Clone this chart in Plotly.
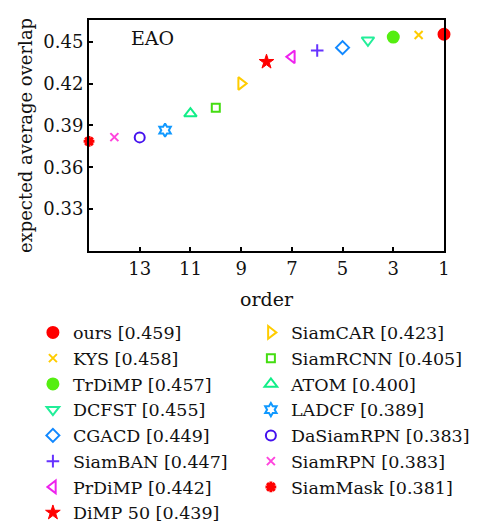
import plotly.graph_objects as go

names = ["ours", "KYS", "TrDiMP", "DCFST", "CGACD", "SiamBAN", "PrDiMP", "DiMP 50",
         "SiamCAR", "SiamRCNN", "ATOM", "LADCF", "DaSiamRPN", "SiamRPN", "SiamMask"]
legend_scores = ["0.459", "0.458", "0.457", "0.455", "0.449", "0.447", "0.442", "0.439",
                 "0.423", "0.405", "0.400", "0.389", "0.383", "0.383", "0.381"]
order = [1, 2, 3, 4, 5, 6, 7, 8, 9, 10, 11, 12, 13, 14, 15]
eao = [0.4553, 0.4548, 0.4533, 0.4510, 0.4457, 0.4436, 0.4391, 0.4355,
       0.4200, 0.4027, 0.3985, 0.3866, 0.3814, 0.3816, 0.3786]
symbols = ["circle", "x-thin-open", "circle", "triangle-down-open", "diamond-open",
           "cross-thin-open", "triangle-left-open", "star", "triangle-right-open",
           "square-open", "triangle-up-open", "hexagram-open", "circle-open",
           "x-thin-open", "asterisk-open"]
colors = ["#ff0000", "#ffcc00", "#55ee11", "#22ee99", "#1188ff", "#6633ff", "#ee22ee",
          "#ff0000", "#ffcc00", "#44dd11", "#11ee88", "#1199ff", "#4411ee", "#ff44dd",
          "#ff0000"]
sizes = [11, 8, 11, 11, 10, 9, 11, 11, 11, 8, 11, 10, 10, 8, 9]
widths = [2, 2, 2, 2, 2, 2, 2, 1, 2, 2, 2, 2, 2, 2, 3]

FONT = "DejaVu Serif"
INK = "#111"
fig = go.Figure()
for i, n in enumerate(names):
    fig.add_trace(go.Scatter(
        x=[order[i]], y=[eao[i]], mode="markers", cliponaxis=False,
        name=f"{n} [{legend_scores[i]}]",
        marker=dict(symbol=symbols[i], size=sizes[i], color=colors[i],
                    line=dict(color=colors[i], width=widths[i])),
        legend="legend" if i < 8 else "legend2",
    ))

fig.add_annotation(text="EAO", x=0.18, y=0.922, xref="paper", yref="paper",
                   xanchor="center", yanchor="middle",
                   showarrow=False, font=dict(family=FONT, size=19, color=INK))

axis_common = dict(showline=True, linecolor="black", linewidth=2, mirror=True,
                   ticks="inside", ticklen=4, tickwidth=1.5, tickcolor="black",
                   showgrid=False, zeroline=False,
                   tickfont=dict(family=FONT, size=18, color=INK))
fig.update_xaxes(range=[15, 1], tickvals=[13, 11, 9, 7, 5, 3, 1],
                 title=dict(text="order", font=dict(family=FONT, size=19, color=INK), standoff=15),
                 **axis_common)
fig.update_yaxes(range=[0.30, 0.4655], tickvals=[0.33, 0.36, 0.39, 0.42, 0.45],
                 tickformat=".2f",
                 title=dict(text="expected average overlap", font=dict(family=FONT, size=18, color=INK), standoff=6),
                 **axis_common)

leg_common = dict(font=dict(family=FONT, size=17.5, color=INK), bgcolor="rgba(0,0,0,0)",
                  itemwidth=30, yanchor="top", xanchor="left", tracegroupgap=0)
# the page body adds an 8px offset, so the figure is 8px smaller and margins shifted
fig.update_layout(
    width=479, height=519,
    margin=dict(l=81, r=43, t=12, b=276, autoexpand=False),
    plot_bgcolor="white", paper_bgcolor="white",
    legend=dict(x=-0.158, y=-0.275, **leg_common),
    legend2=dict(x=0.456, y=-0.275, **leg_common),
    showlegend=True,
)
fig.write_html("out.html")
